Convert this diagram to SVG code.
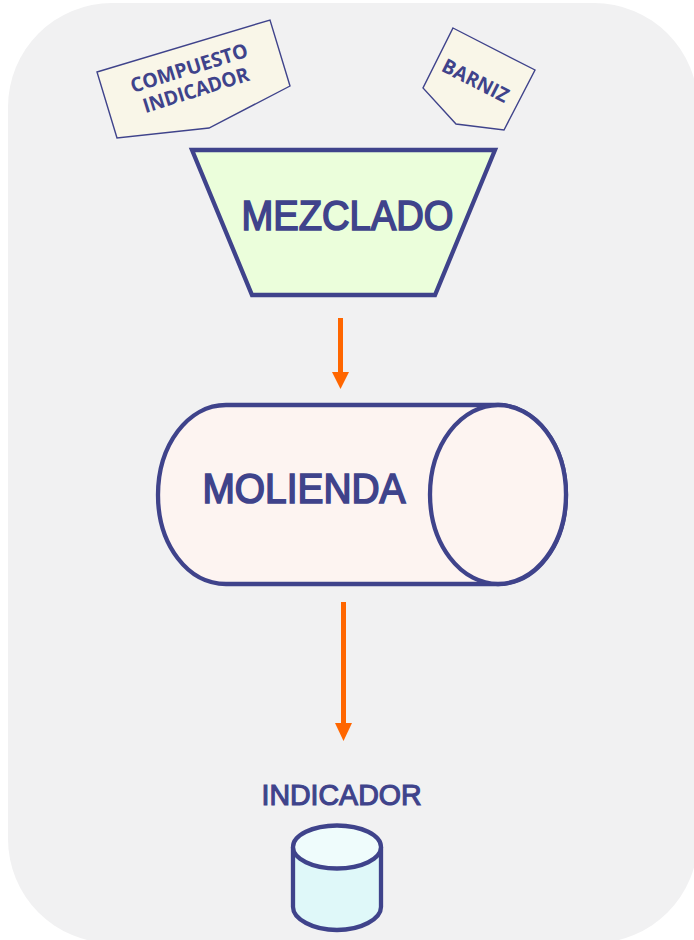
<svg xmlns="http://www.w3.org/2000/svg" width="694" height="940" viewBox="0 0 694 940">
<style>
.t{font-family:"Liberation Sans",Arial,sans-serif;fill:#3f438b;stroke:#3f438b;font-weight:400;text-anchor:start}
.s{stroke:#3f438b;stroke-width:4.300;}
.k{font-family:"Open Sans","Noto Sans",sans-serif;fill:#3f438b;font-weight:700;font-size:20px;text-anchor:middle}
.n{fill:#f9f6e8;stroke:#3f438b;stroke-width:1.4}
.a{stroke:#ff6600;stroke-width:5;fill:none}
.h{fill:#ff6600}
</style>
<rect width="694" height="940" fill="#fff"/>
<rect id="bg" x="8" y="3" width="690" height="940" rx="104" ry="104" fill="#f1f1f2"/>
<g id="compuesto">
<polygon class="n" points="97,72 270,20 290,86 209,128 117,138"/>
<g transform="rotate(-17.5 191 81)"><text class="k" x="193" y="75" textLength="122" lengthAdjust="spacingAndGlyphs">COMPUESTO</text><text class="k" x="193" y="98" textLength="110" lengthAdjust="spacingAndGlyphs">INDICADOR</text></g>
</g>
<g id="barniz">
<polygon class="n" points="453,28 535,70 504,130 456,124 423,88"/>
<text class="k" transform="rotate(27 476 82)" x="475" y="88" textLength="72" lengthAdjust="spacingAndGlyphs">BARNIZ</text>
</g>
<g id="mezclado">
<polygon class="s" points="192,150 495,150 435,295 252,295" fill="#ebfedb"/>
<text class="t" x="241.500" y="230" font-size="42" stroke-width="1.700" textLength="212" lengthAdjust="spacingAndGlyphs">MEZCLADO</text>
</g>
<g id="molienda">
<path class="s" d="M226 405H498C536 405 566 445 566 495S536 584 498 584H226C188 584 158 545 158 495S188 405 226 405Z" fill="#fdf4f1"/>
<ellipse class="s" cx="498" cy="494.500" rx="68" ry="89.500" fill="#fdf4f1"/>
<text class="t" x="202.500" y="503" font-size="42" stroke-width="1.700" textLength="203" lengthAdjust="spacingAndGlyphs">MOLIENDA</text>
</g>
<g id="indicador">
<text class="t" x="261.500" y="805" font-size="30" stroke-width="1.200" textLength="160" lengthAdjust="spacingAndGlyphs">INDICADOR</text>
<path class="s" d="M293 847V907C293 919 313 930 337 930S381 919 381 907V847" fill="#dff8f9"/>
<ellipse class="s" cx="337" cy="847" rx="44" ry="21.500" fill="#effcfc"/>
</g>
<g id="connectors">
<line class="a" x1="340.500" y1="318" x2="340.500" y2="374"/>
<polygon class="h" points="332,372 349,372 340.500,389"/>
<line class="a" x1="343.500" y1="602" x2="343.500" y2="726"/>
<polygon class="h" points="335,723 352,723 343.500,741"/>
</g>
</svg>
